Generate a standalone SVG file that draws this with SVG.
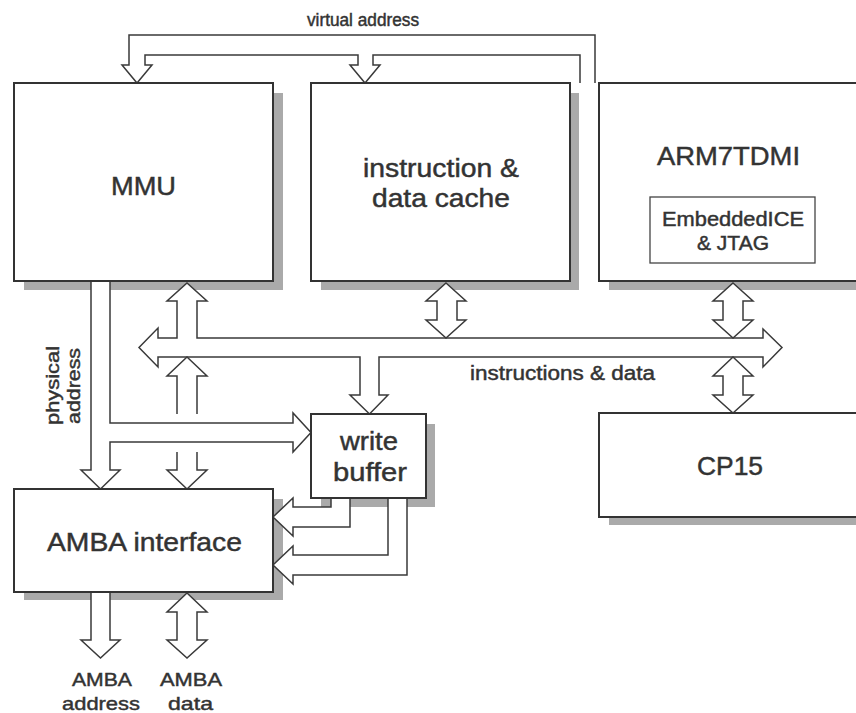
<svg xmlns="http://www.w3.org/2000/svg" width="856" height="713" viewBox="0 0 856 713">
<style>
.box{fill:#fff;stroke:#333;stroke-width:2}
.ibox{fill:#fff;stroke:#444;stroke-width:1.3}
.sh{fill:#aaa}
.a{fill:#fff;stroke:#3a3a3a;stroke-width:1.5;stroke-linejoin:miter}
text{font-family:"Liberation Sans",Arial,sans-serif;fill:#333;stroke:#333;stroke-width:0.45;text-anchor:middle}
.t{font-size:25px}
.m{font-size:20px}
.s{font-size:19px}
</style>
<rect width="856" height="713" fill="#fff"/>
<g id="shadows">
<rect class="sh" x="24" y="93" width="259" height="197"/>
<rect class="sh" x="321" y="93" width="258" height="197"/>
<rect class="sh" x="609" y="93" width="262" height="197"/>
<rect class="sh" x="609" y="423" width="262" height="102"/>
<rect class="sh" x="321" y="424" width="114" height="83"/>
<rect class="sh" x="24" y="499" width="259" height="101"/>
</g>
<g id="connectors">
<path class="a" d="M595,83 V35 H129 V65 H122 L137,83 L152,65 H145 V55 H358 V65 H350 L365,83 L380,65 H373 V55 H580 V83"/>
<path class="a" d="M139,347.5 L158,328 V338 H177 V301 H167 L187,283 L207,301 H197 V338 H763 V329 L782,347.5 L763,367 V357 H379 V395 H388 L369.5,414 L350,395 H360 V357 H158 V367 Z"/>
<path class="a" d="M446,283 L466,301 H457 V320 H466 L446,338 L426,320 H437 V301 H426 Z"/>
<path class="a" d="M733,283 L753,301 H743 V320 H753 L733,338 L713,320 H723 V301 H713 Z"/>
<path class="a" d="M733,357 L753,376 H743 V395 H753 L733,413 L713,395 H723 V376 H713 Z"/>
<path class="a" d="M177,414 V376 H167 L187,357 L207,376 H197 V414"/>
<path class="a" d="M177,452 V470 H167 L187,489 L207,470 H197 V452"/>
<path class="a" d="M91,281 V470 H81 L100.5,489 L120,470 H110 V442 H293 V452 L311,432.5 L293,413 V423 H110 V281"/>
<path class="a" d="M331,498 V507 H293 V498 L273,517 L293,536 V527 H350 V498"/>
<path class="a" d="M388,498 V555 H293 V546 L273,565 L293,584 V575 H407 V498"/>
<path class="a" d="M91,592 V640 H81 L100.5,658 L120,640 H110 V592"/>
<path class="a" d="M187,593 L207,612 H197 V640 H207 L187,658 L167,640 H177 V612 H167 Z"/>
<text x="363" y="26" style="font-size:17.5px" textLength="112" lengthAdjust="spacingAndGlyphs">virtual address</text>
<text x="562.5" y="380" style="font-size:19.5px" textLength="185" lengthAdjust="spacingAndGlyphs">instructions &amp; data</text>
<text class="s" transform="translate(59,385.5) rotate(-90)" textLength="79" lengthAdjust="spacingAndGlyphs">physical</text>
<text class="s" transform="translate(80,386) rotate(-90)" textLength="76" lengthAdjust="spacingAndGlyphs">address</text>
<text class="s" x="102" y="686" textLength="60" lengthAdjust="spacingAndGlyphs">AMBA</text>
<text class="s" x="101" y="710" textLength="78" lengthAdjust="spacingAndGlyphs">address</text>
<text class="s" x="191" y="686" textLength="62" lengthAdjust="spacingAndGlyphs">AMBA</text>
<text class="s" x="190.5" y="710" textLength="45" lengthAdjust="spacingAndGlyphs">data</text>
</g>
<g id="mmu">
<rect class="box" x="14" y="83" width="259" height="198"/>
<text class="t" x="143.5" y="195" textLength="65" lengthAdjust="spacingAndGlyphs">MMU</text>
</g>
<g id="cache">
<rect class="box" x="311" y="83" width="259" height="198"/>
<text class="t" x="441" y="177" textLength="156" lengthAdjust="spacingAndGlyphs">instruction &amp;</text>
<text class="t" x="441" y="207" textLength="138" lengthAdjust="spacingAndGlyphs">data cache</text>
</g>
<g id="arm7tdmi">
<rect class="box" x="599" y="83" width="262" height="198"/>
<text class="t" x="728.5" y="165" textLength="143" lengthAdjust="spacingAndGlyphs">ARM7TDMI</text>
<g id="embeddedice">
<rect class="ibox" x="650" y="197" width="165" height="66"/>
<text class="m" x="733" y="226" textLength="142" lengthAdjust="spacingAndGlyphs">EmbeddedICE</text>
<text class="m" x="733" y="250" textLength="72" lengthAdjust="spacingAndGlyphs">&amp; JTAG</text>
</g>
</g>
<g id="cp15">
<rect class="box" x="599" y="413" width="262" height="104"/>
<text class="t" x="730" y="475" textLength="66" lengthAdjust="spacingAndGlyphs">CP15</text>
</g>
<g id="writebuffer">
<rect class="box" x="311" y="414" width="115" height="84"/>
<text class="t" x="369" y="450" textLength="58" lengthAdjust="spacingAndGlyphs">write</text>
<text class="t" x="370" y="481" textLength="74" lengthAdjust="spacingAndGlyphs">buffer</text>
</g>
<g id="amba">
<rect class="box" x="14" y="489" width="259" height="103"/>
<text class="t" x="144.5" y="551" textLength="195" lengthAdjust="spacingAndGlyphs">AMBA interface</text>
</g>
</svg>
